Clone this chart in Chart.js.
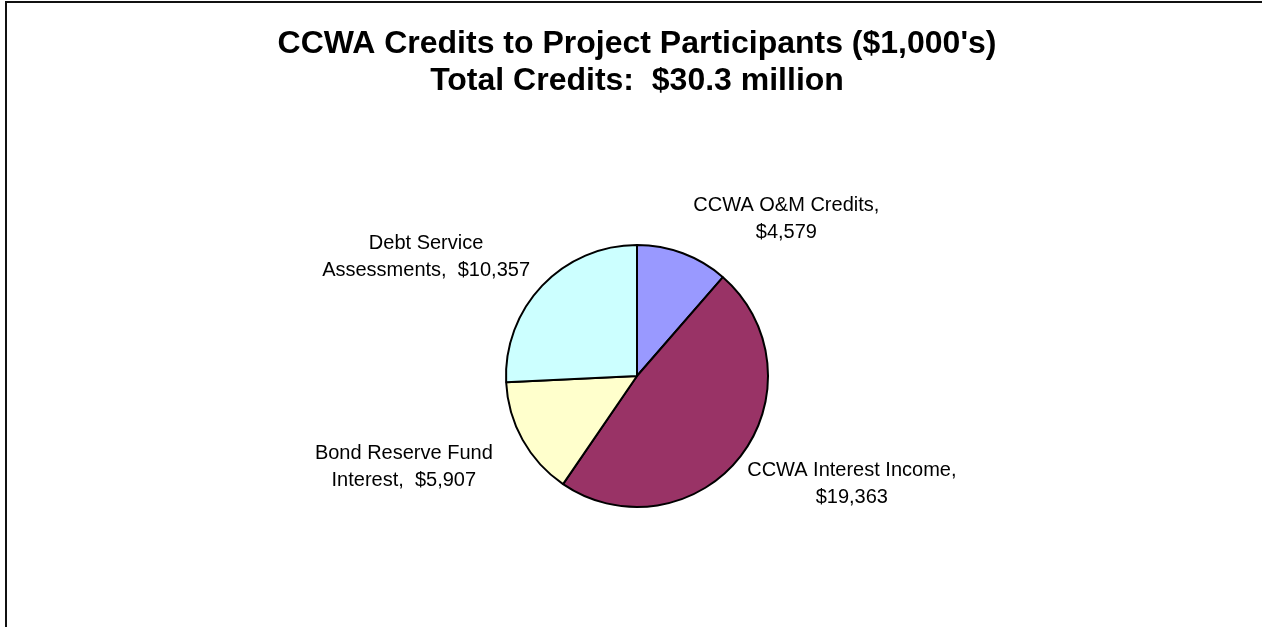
<!DOCTYPE html>
<html>
<head>
    <title>CCWA Credits</title>
    <script src="https://cdn.jsdelivr.net/npm/chart.js"></script>
    <style>
        body { margin: 0; background: #fff; }
        .chart-container { width: 1262px; height: 627px; position: relative; }
    </style>
</head>
<body>
    <div class="chart-container">
        <canvas id="pieChart"></canvas>
    </div>
    <script>
        // data ($1,000's)
        const categories = ['CCWA O&M Credits', 'CCWA Interest Income', 'Bond Reserve Fund Interest', 'Debt Service Assessments'];
        const credits = [4579, 19363, 5907, 10357];
        const labelLines = [
            ['CCWA O&M Credits,', '$4,579'],
            ['CCWA Interest Income,', '$19,363'],
            ['Bond Reserve Fund', 'Interest,  $5,907'],
            ['Debt Service', 'Assessments,  $10,357']
        ];
        const titleLines = ["CCWA Credits to Project Participants ($1,000's)", 'Total Credits:  $30.3 million'];
        const sliceColors = ['#9999FF', '#993366', '#FFFFCC', '#CCFFFF'];

        // where each label sits, in multiples of the pie radius from its centre
        const labelPos = [[1.14, -1.21], [1.64, 0.81], [-1.78, 0.68], [-1.61, -0.92]];

        const decorPlugin = {
            id: 'decor',
            beforeDraw(chart) {
                const ctx = chart.ctx;
                ctx.save();
                ctx.strokeStyle = '#111';
                ctx.lineWidth = 2;
                ctx.beginPath();
                ctx.moveTo(6, chart.height);
                ctx.lineTo(6, 2);
                ctx.lineTo(chart.width, 2);
                ctx.stroke();
                ctx.restore();
            },
            afterDraw(chart) {
                const ctx = chart.ctx;
                ctx.save();
                ctx.fillStyle = '#000';
                ctx.textAlign = 'center';
                ctx.textBaseline = 'alphabetic';
                ctx.font = 'bold 32px "Liberation Sans", Arial, sans-serif';
                ctx.fillText(titleLines[0], 637, 53);
                ctx.fillText(titleLines[1], 637, 90);

                const arcs = chart.getDatasetMeta(0).data;
                ctx.font = '20px "Liberation Sans", Arial, sans-serif';
                arcs.forEach((arc, i) => {
                    const r = arc.outerRadius;
                    const cx = arc.x + labelPos[i][0] * r;
                    const cy = arc.y + labelPos[i][1] * r;
                    const lines = labelLines[i];
                    lines.forEach((line, k) => {
                        const y = cy + (k - (lines.length - 1) / 2) * 27 + 7;
                        ctx.fillText(line, cx, y);
                    });
                });
                ctx.restore();
            }
        };

        const ctx = document.getElementById('pieChart').getContext('2d');
        new Chart(ctx, {
            type: 'pie',
            data: {
                labels: categories,
                datasets: [{
                    data: credits,
                    backgroundColor: sliceColors,
                    borderColor: '#000',
                    borderWidth: 2
                }]
            },
            options: {
                responsive: true,
                maintainAspectRatio: false,
                animation: false,
                layout: {
                    padding: { top: 244, bottom: 119, left: 12, right: 0 }
                },
                plugins: {
                    legend: { display: false },
                    title: { display: false },
                    tooltip: { enabled: false }
                }
            },
            plugins: [decorPlugin]
        });
    </script>
</body>
</html>
